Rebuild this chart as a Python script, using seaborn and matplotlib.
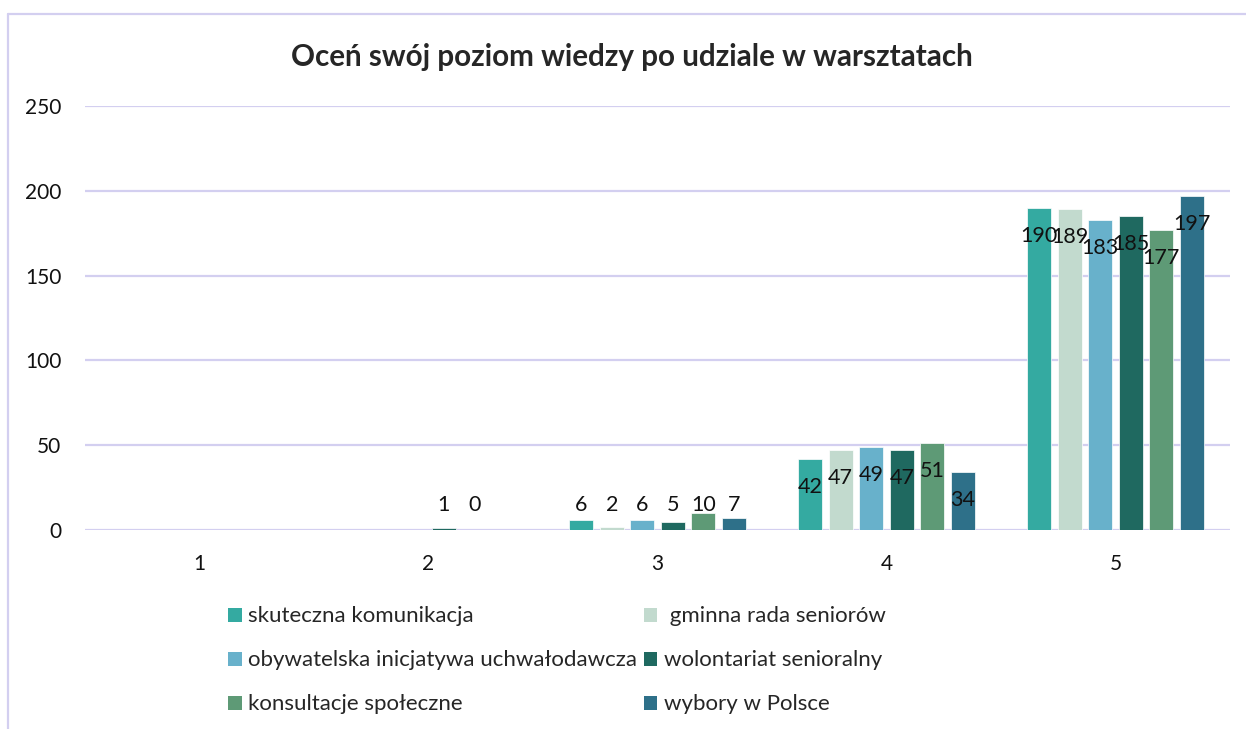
import numpy as np
import pandas as pd
import matplotlib
matplotlib.use("Agg")
import matplotlib.pyplot as plt
import seaborn as sns
from matplotlib.lines import Line2D
from matplotlib.patches import Patch

# Data (NaN = no answer in this category)
categories = ["1", "2", "3", "4", "5"]
series = ["skuteczna komunikacja", " gminna rada seniorów",
          "obywatelska inicjatywa uchwałodawcza", "wolontariat senioralny",
          "konsultacje społeczne", "wybory w Polsce"]
skuteczna = [np.nan, np.nan, 6, 42, 190]
gminna = [np.nan, np.nan, 2, 47, 189]
obywatelska = [np.nan, np.nan, 6, 49, 183]
wolontariat = [np.nan, 1, 5, 47, 185]
konsultacje = [np.nan, 0, 10, 51, 177]
wybory = [np.nan, np.nan, 7, 34, 197]
colors = ["#34AAA1", "#C2DACE", "#68B1CB", "#1F6960", "#5E9A76", "#2E7089"]
yticks = [0, 50, 100, 150, 200, 250]

values = [skuteczna, gminna, obywatelska, wolontariat, konsultacje, wybory]
rows = []
for name, vals in zip(series, values):
    for cat, v in zip(categories, vals):
        rows.append({"ocena": cat, "warsztat": name, "liczba": v})
df = pd.DataFrame(rows).dropna()

sns.set_style("white")
plt.rcParams["font.family"] = ["Lato", "DejaVu Sans"]
grid_color = "#D3CFF0"

fig = plt.figure(figsize=(12.46, 7.29), dpi=100)
ax = fig.add_axes([0.0682, 0.273, 0.919, 0.5816])

sns.barplot(data=df, x="ocena", y="liczba", hue="warsztat", order=categories,
            hue_order=series, palette=colors, saturation=1, width=0.8,
            gap=0.21, edgecolor="#FFFFFF", linewidth=0.5, legend=False, ax=ax)

# data labels ("inside end", kept above the axis for short bars)
for container in ax.containers:
    for bar in container:
        h = bar.get_height()
        if np.isnan(h):
            continue
        x = bar.get_x() + bar.get_width() / 2
        y = max(h - 16.5, 14.7)
        ax.text(x, y, f"{h:.0f}", ha="center", va="center", fontsize=15.5,
                color="#111111")

ax.set_xlim(-0.5, 4.5)
ax.set_ylim(0, 250)
ax.set_yticks(yticks)
ax.yaxis.grid(True, color=grid_color, linewidth=1.6)
ax.set_axisbelow(True)
for s in ax.spines.values():
    s.set_visible(False)
ax.set_xlabel("")
ax.set_ylabel("")
ax.tick_params(axis="y", length=0, pad=17, labelsize=15, labelcolor="#111111")
ax.tick_params(axis="x", length=0, pad=17, labelsize=15, labelcolor="#111111")

fig.text(0.507, 0.922, "Oceń swój poziom wiedzy po udziale w warsztatach",
         ha="center", va="center", fontsize=21.3, fontweight="bold")

# legend filled row by row, two columns
order = [0, 2, 4, 1, 3, 5]
handles = [Patch(facecolor=colors[i], edgecolor="none") for i in order]
labels = [series[i] for i in order]
fig.legend(handles, labels, loc="center", bbox_to_anchor=(0.447, 0.094),
           ncol=2, frameon=False, fontsize=16, handlelength=0.6,
           handleheight=0.6, handletextpad=0.3, labelspacing=1.08,
           columnspacing=0.3)

# chart frame (top and left edges visible)
fig.add_artist(Line2D([8 / 1246, 1], [1 - 14 / 729] * 2,
                      transform=fig.transFigure, color=grid_color, lw=1.6))
fig.add_artist(Line2D([8 / 1246] * 2, [0, 1 - 14 / 729],
                      transform=fig.transFigure, color=grid_color, lw=1.6))

fig.savefig("out.png", dpi=100)
